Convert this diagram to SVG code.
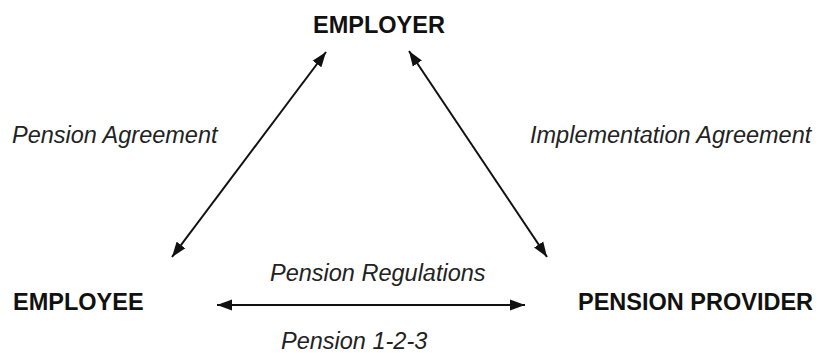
<svg xmlns="http://www.w3.org/2000/svg" width="824" height="353" viewBox="0 0 824 353">
<style>
.node{font-family:"Liberation Sans",Arial,sans-serif;font-weight:bold;font-size:23.5px;fill:#111}
.lbl{font-family:"Liberation Sans",Arial,sans-serif;font-style:italic;font-size:23.5px;fill:#222}
.con{stroke:#111;stroke-width:2;fill:none;marker-start:url(#ah);marker-end:url(#ah)}
</style>
<defs>
<marker id="ah" markerUnits="userSpaceOnUse" markerWidth="16" markerHeight="12" refX="15" refY="6" orient="auto-start-reverse">
<path d="M0,0.5 L15,6 L0,11.5 z" fill="#111"/>
</marker>
</defs>
<rect width="824" height="353" fill="#fff"/>
<g id="employer"><text class="node" x="313" y="33">EMPLOYER</text></g>
<g id="employee"><text class="node" x="13" y="310">EMPLOYEE</text></g>
<g id="provider"><text class="node" x="578" y="310">PENSION PROVIDER</text></g>
<g id="connectors">
<path class="con" d="M172,257 L326,52"/>
<path class="con" d="M409,51 L547,257"/>
<path class="con" d="M217,305 L525,305"/>
</g>
<g id="labels">
<text class="lbl" x="12" y="143">Pension Agreement</text>
<text class="lbl" x="530" y="143">Implementation Agreement</text>
<text class="lbl" x="270" y="281">Pension Regulations</text>
<text class="lbl" x="281" y="349">Pension 1-2-3</text>
</g>
</svg>
